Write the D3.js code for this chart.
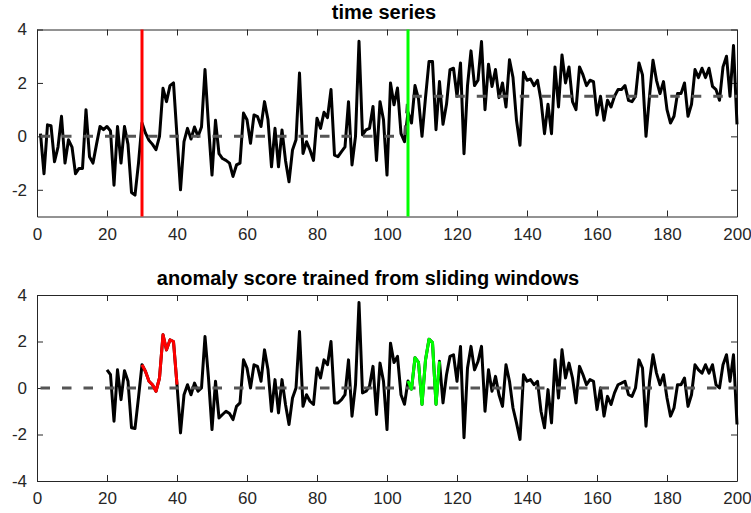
<!DOCTYPE html>
<html lang="en">
<head>
    <meta charset="utf-8">
    <title>time series / anomaly score</title>
    <script src="https://d3js.org/d3.v7.min.js"></script>
    <style>
        body{
            margin: 0;
            background-color: white;
        }
        svg{
            display: block;
            font-family: "Liberation Sans", Arial, Helvetica, sans-serif;
        }
        .axis text{
            font-size: 17px;
            fill: #262626;
        }
        .axis path, .axis line{
            stroke: #262626;
            stroke-width: 1;
        }
        text.title{
            font-size: 20px;
            font-weight: bold;
            fill: #000;
        }
    </style>
</head>
<body>
<div id="chart"></div>
<script>

// raw signal, t = 1..200
var signalValues = [
    0.1, -1.4, 0.43, 0.4, -0.95, -0.4, 0.75, -1.0, -0.13, -0.4,
    -1.4, -1.2, -1.2, 1.0, -0.76, -1.0, -0.3, 0.37, 0.25, 0.37,
    0.2, -1.83, 0.37, -1.0, 0.37, -0.3, -2.1, -2.2, -1.0, 0.5,
    0.12, -0.15, -0.3, -0.5, 0.0, 1.8, 1.3, 1.9, 2.0, 0.0,
    -2.0, -0.2, 0.3, -0.1, 0.35, 0.0, 0.35, 2.5, 0.4, -1.45,
    0.6, -0.65, -0.83, -0.9, -1.0, -1.5, -1.07, -1.0, 0.87, 0.62,
    -0.26, 0.8, 0.74, 0.37, 1.3, 0.62, -1.14, 0.3, -1.14, 0.24,
    -0.9, -1.7, -0.51, -0.13, 2.37, -0.64, -0.2, -0.51, -0.9, 0.68,
    0.3, 0.9, 0.7, 1.75, -0.7, -0.76, -0.57, -0.39, 1.3, -1.07,
    0.0, 3.56, 0.05, 0.24, 0.3, 1.12, -0.9, 1.3, 0.62, -1.45,
    2.0, 1.18, 1.81, 0.1, -0.2, 0.9, 0.5, 1.9, 1.4, 0.0,
    1.45, 2.8, 2.8, 0.25, 2.05, 0.45, 1.2, 2.5, 2.55, 1.5,
    2.75, -0.65, 1.9, 3.2, 1.9, 2.1, 3.55, 1.0, 2.7, 1.87,
    2.5, 1.45, 2.0, 1.1, 2.87, 2.2, 0.6, -0.33, 2.4, 2.1,
    2.15, 1.9, 2.1, 1.35, 0.1, 1.2, 0.1, 2.6, 1.1, 3.05,
    2.0, 2.6, 1.3, 1.0, 2.6, 2.3, 1.9, 2.1, 2.05, 0.8,
    1.5, 0.6, 1.35, 1.1, 1.5, 1.75, 1.75, 1.9, 1.35, 1.3,
    1.5, 2.75, 2.3, 0.0, 1.5, 2.85, 2.1, 1.6, 2.05, 1.0,
    0.5, 0.75, 1.6, 1.6, 2.0, 0.75, 1.2, 2.5, 2.2, 2.55,
    2.2, 2.55, 1.87, 1.75, 1.35, 2.6, 3.0, 1.5, 3.4, 0.45
];

// underlying mean level (dashed), as [t, level] knots
var meanKnots = [[1, 0], [105, 0], [106, 1.5], [200, 1.5]];

// anomaly score, t = 20..200
var scoreStart = 20;
var scoreValues = [
    0.78, 0.57, -1.43, 0.78, -0.5, 0.74, 0.29, -1.71, -1.74, -0.4,
    1.0, 0.71, 0.29, 0.14, -0.14, 0.43, 2.29, 1.64, 2.07, 2.0,
    0.14, -1.93, -0.29, 0.14, -0.29, 0.21, -0.14, 0.0, 2.21, 0.43,
    -1.79, 0.29, -1.29, -1.14, -1.0, -1.1, -1.36, -0.79, -0.64, 1.21,
    0.86, 0.0, 1.0, 0.93, 0.29, 1.64, 0.78, -1.0, 0.36, -1.07,
    0.36, -0.71, -1.57, -0.43, 0.0, 2.43, -0.79, -0.29, -0.57, -0.71,
    0.86, 0.43, 1.21, 1.0, 2.0, -0.64, -0.64, -0.5, -0.29, 1.21,
    -1.21, 0.14, 3.68, -0.21, -0.14, 0.07, 0.93, -1.14, 1.07, 0.29,
    -1.79, 1.93, 1.1, 1.36, -0.29, -0.7, 0.3, -0.05, 1.3, 1.1,
    -0.7, 1.2, 2.1, 1.95, -0.7, 1.15, -0.64, 0.57, 1.36, 1.43,
    0.29, 1.79, -2.14, 0.86, 1.79, 0.78, 1.14, 1.79, -1.0, 0.78,
    -0.14, 0.5, -0.29, -0.79, 1.0, 0.29, -0.86, -1.5, -2.21, 0.57,
    0.29, 0.36, 0.14, 0.29, -1.0, -1.71, -0.07, -1.5, 1.21, -0.43,
    1.64, 0.43, 1.07, 0.43, -0.64, 0.93, 0.57, 0.14, 0.36, 0.29,
    -0.93, 0.0, -1.21, -0.36, -0.71, -0.21, 0.14, 0.21, 0.29, -0.29,
    -0.36, 0.0, 1.21, 0.86, -1.64, 0.29, 1.43, 0.64, 0.14, 0.57,
    -0.43, -1.21, -0.86, 0.14, 0.14, 0.43, -0.79, -0.29, 1.0, 0.78,
    0.64, 1.0, 0.64, 1.0, 0.14, 0.0, 1.0, 1.43, 0.29, 1.43,
    -1.57
];
var scoreBaseline = 0;

// change points and anomaly windows
var changePoints = [30, 106];
var windowStarts = [30, 106];
var windowEnds   = [40, 115];

// axis ticks
var xTicks = [0, 20, 40, 60, 80, 100, 120, 140, 160, 180, 200];
var topYTicks = [-2, 0, 2, 4];
var bottomYTicks = [-4, -2, 0, 2, 4];

var titles = ["time series", "anomaly score trained from sliding windows"];

// ---- layout
var width = 751, height = 513;
var plotLeft = 37, plotRight = 737;
var markColors = ["#ff0000", "#00ff00"];

var svg = d3.select("#chart").append("svg")
    .attr("width", width)
    .attr("height", height);

var x = d3.scaleLinear().domain([0, 200]).range([plotLeft, plotRight]);
var yTop = d3.scaleLinear().domain([-3, 4]).range([216.5, 29.5]);
var yBot = d3.scaleLinear().domain([-4, 4]).range([481, 295]);

var signal = signalValues.map(function(v, i){ return [i + 1, v]; });
var score = scoreValues.map(function(v, i){ return [scoreStart + i, v]; });

// plain hyphen minus, like the reference
var plainNum = function(d){ return String(d); };

// draws the MATLAB-ish box with inward ticks
function drawFrame(y, yTicks){
    var top = y.range()[1], bottom = y.range()[0];
    svg.append("g").attr("class", "axis")
        .attr("transform", "translate(0," + bottom + ")")
        .call(d3.axisBottom(x).tickValues(xTicks).tickSizeInner(-6).tickSizeOuter(0).tickPadding(11).tickFormat(plainNum));
    svg.append("g").attr("class", "axis")
        .attr("transform", "translate(0," + top + ")")
        .call(d3.axisTop(x).tickValues(xTicks).tickSizeInner(-6).tickSizeOuter(0).tickFormat(""));
    svg.append("g").attr("class", "axis")
        .attr("transform", "translate(" + plotLeft + ",0)")
        .call(d3.axisLeft(y).tickValues(yTicks).tickSizeInner(-6).tickSizeOuter(0).tickPadding(10).tickFormat(plainNum));
    svg.append("g").attr("class", "axis")
        .attr("transform", "translate(" + plotRight + ",0)")
        .call(d3.axisRight(y).tickValues(yTicks).tickSizeInner(-6).tickSizeOuter(0).tickFormat(""));
}

// ---- top panel
drawFrame(yTop, topYTicks);

var lineTop = d3.line().x(d => x(d[0])).y(d => yTop(d[1]));

svg.append("path")
    .datum(signal)
    .attr("d", lineTop)
    .attr("fill", "none")
    .attr("stroke", "#000")
    .attr("stroke-width", 3)
    .attr("stroke-linejoin", "round");

svg.append("path")
    .datum(meanKnots)
    .attr("d", lineTop)
    .attr("fill", "none")
    .attr("stroke", "#555")
    .attr("stroke-width", 3)
    .attr("stroke-dasharray", "9.5,12");

svg.selectAll("line.change")
    .data(changePoints)
    .enter().append("line")
    .attr("class", "change")
    .attr("x1", d => x(d)).attr("x2", d => x(d))
    .attr("y1", yTop.range()[1]).attr("y2", yTop.range()[0])
    .attr("stroke", (d, i) => markColors[i])
    .attr("stroke-width", 3);

svg.append("text").attr("class", "title")
    .attr("x", 384).attr("y", 19)
    .attr("text-anchor", "middle")
    .text(titles[0]);

// ---- bottom panel
drawFrame(yBot, bottomYTicks);

var lineBot = d3.line().x(d => x(d[0])).y(d => yBot(d[1]));

svg.append("path")
    .datum(score)
    .attr("d", lineBot)
    .attr("fill", "none")
    .attr("stroke", "#000")
    .attr("stroke-width", 3)
    .attr("stroke-linejoin", "round");

svg.append("path")
    .datum([[1, scoreBaseline], [200, scoreBaseline]])
    .attr("d", lineBot)
    .attr("fill", "none")
    .attr("stroke", "#555")
    .attr("stroke-width", 3)
    .attr("stroke-dasharray", "9.5,12");

windowStarts.forEach(function(s, i){
    var seg = score.filter(d => d[0] >= s && d[0] <= windowEnds[i]);
    svg.append("path")
        .datum(seg)
        .attr("d", lineBot)
        .attr("fill", "none")
        .attr("stroke", markColors[i])
        .attr("stroke-width", 3)
        .attr("stroke-linejoin", "round");
});

svg.append("text").attr("class", "title")
    .attr("x", 368).attr("y", 285)
    .attr("text-anchor", "middle")
    .text(titles[1]);

</script>
</body>
</html>
